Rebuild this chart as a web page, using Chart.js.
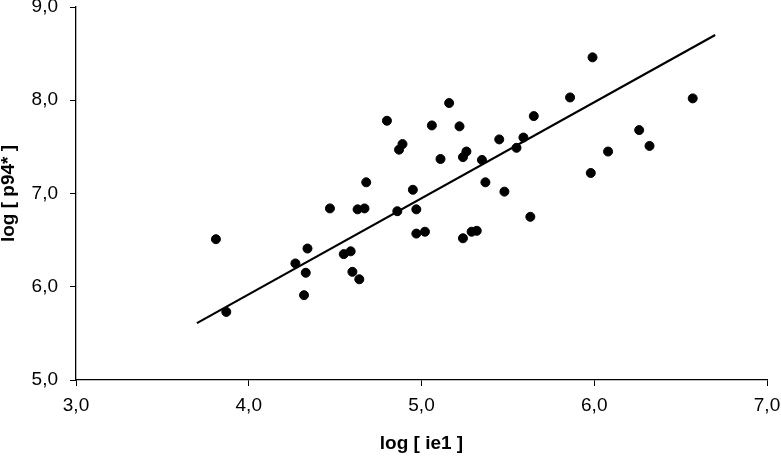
<!DOCTYPE html>
<html>
<head>
<meta charset="utf-8">
<script src="https://cdn.jsdelivr.net/npm/chart.js@4"></script>
<style>
  html, body { margin: 0; padding: 0; background: #fff; }
  #wrap { width: 781px; height: 456px; }
</style>
</head>
<body>
<div id="wrap"><canvas id="scatterChart" width="781" height="456"></canvas></div>
<script>
// Data
const xValues = [3.81, 3.87, 4.27, 4.34, 4.33, 4.32, 4.47, 4.55, 4.59, 4.60, 4.64, 4.63, 4.67, 4.68,
  4.80, 4.86, 4.87, 4.89, 4.95, 4.97, 4.97, 5.02, 5.06, 5.16, 5.11, 5.22, 5.24, 5.26, 5.24, 5.29,
  5.32, 5.35, 5.37, 5.45, 5.48, 5.55, 5.59, 5.65, 5.63, 5.86, 5.99, 5.98, 6.08, 6.26, 6.32, 6.57];
const yValues = [6.51, 5.73, 6.25, 6.41, 6.15, 5.91, 6.84, 6.35, 6.38, 6.16, 6.08, 6.83, 6.84, 7.12,
  7.78, 6.81, 7.47, 7.53, 7.04, 6.83, 6.57, 6.59, 7.73, 7.97, 7.37, 7.72, 7.39, 7.45, 6.52, 6.59,
  6.60, 7.36, 7.12, 7.58, 7.02, 7.49, 7.60, 7.83, 6.75, 8.03, 8.46, 7.22, 7.45, 7.68, 7.51, 8.02];
const fitX = [3.70, 6.70];
const fitY = [5.61, 8.70];
const xTicks = [3, 4, 5, 6, 7];
const yTicks = [5, 6, 7, 8, 9];

const points = xValues.map((x, i) => ({ x: x, y: yValues[i] }));
const fitLine = fitX.map((x, i) => ({ x: x, y: fitY[i] }));
const commaLabel = (v) => v.toFixed(1).replace('.', ',');

const ctx = document.getElementById('scatterChart').getContext('2d');
const chart = new Chart(ctx, {
  type: 'scatter',
  data: {
    datasets: [{
      data: points,
      backgroundColor: '#000',
      borderColor: '#000',
      pointRadius: 4.5,
      pointHoverRadius: 4.5
    }, {
      type: 'line',
      data: fitLine,
      borderColor: '#000',
      borderWidth: 2.2,
      pointRadius: 0,
      fill: false
    }]
  },
  options: {
    responsive: false,
    animation: false,
    layout: { padding: { top: 7, right: 14, left: 0, bottom: 0 } },
    plugins: {
      legend: { display: false },
      tooltip: { enabled: false }
    },
    scales: {
      x: {
        type: 'linear',
        min: 3, max: 7,
        afterBuildTicks: (s) => { s.ticks = xTicks.map(v => ({ value: v })); },
        afterFit: (s) => { s.height = 76; s.paddingLeft = 0; s.paddingRight = 0; },
        grid: { drawOnChartArea: false, tickLength: 6, color: '#000' },
        border: { color: '#000', width: 1.3 },
        ticks: {
          color: '#000', padding: 8, maxRotation: 0,
          font: { family: 'Liberation Sans', size: 19 },
          callback: commaLabel
        },
        title: {
          display: true, text: 'log [ ie1 ]', color: '#000',
          font: { family: 'Liberation Sans', size: 19, weight: 'bold' },
          padding: { top: 0, bottom: 1 }
        }
      },
      y: {
        type: 'linear',
        min: 5, max: 9,
        afterBuildTicks: (s) => { s.ticks = yTicks.map(v => ({ value: v })); },
        afterFit: (s) => { s.width = 76; s.paddingTop = 0; s.paddingBottom = 0; },
        grid: { drawOnChartArea: false, tickLength: 6, color: '#000' },
        border: { color: '#000', width: 1.3 },
        ticks: {
          color: '#000', padding: 12,
          font: { family: 'Liberation Sans', size: 19 },
          callback: commaLabel
        },
        title: {
          display: true, text: 'log [ p94* ]', color: '#000',
          font: { family: 'Liberation Sans', size: 19, weight: 'bold' },
          padding: { top: -3, bottom: 0 }
        }
      }
    }
  }
});
</script>
</body>
</html>
